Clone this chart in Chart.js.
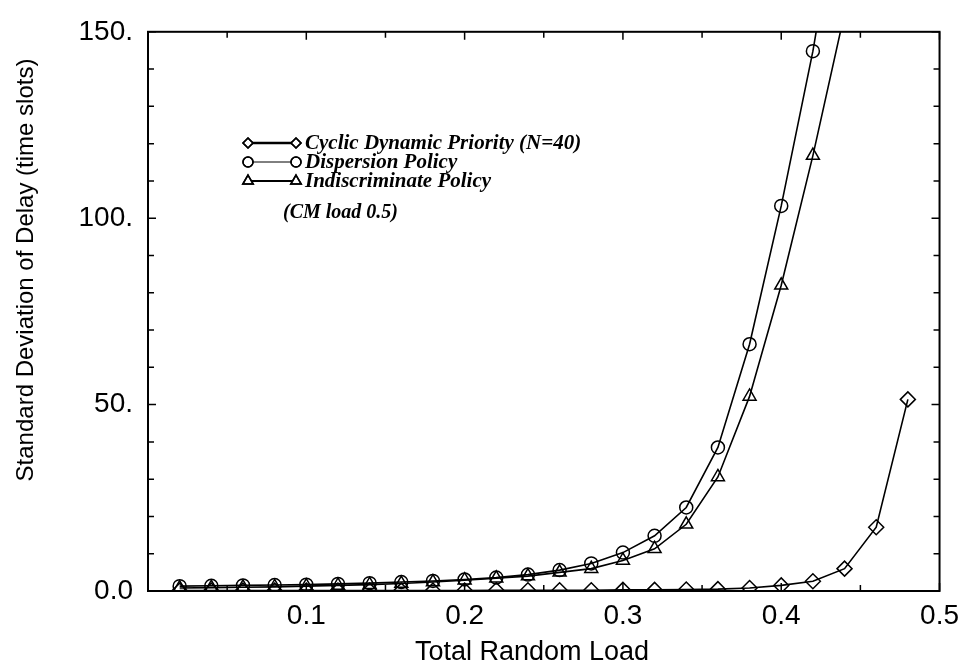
<!DOCTYPE html>
<html>
<head>
<meta charset="utf-8">
<title>Standard Deviation of Delay</title>
<script src="https://cdn.jsdelivr.net/npm/chart.js@4.4.1/dist/chart.umd.min.js"></script>
<style>
  html, body { margin: 0; padding: 0; background: #fff; }
  #wrap { width: 967px; height: 671px; }
</style>
</head>
<body>
<div id="wrap"><canvas id="delayChart" width="967" height="671"></canvas></div>
<script>
const loads = [0.02, 0.04, 0.06, 0.08, 0.10, 0.12, 0.14, 0.16, 0.18, 0.20, 0.22, 0.24,
               0.26, 0.28, 0.30, 0.32, 0.34, 0.36, 0.38, 0.40, 0.42, 0.44, 0.46, 0.48];

const cyclicValues = [0.1, 0.1, 0.1, 0.1, 0.1, 0.1, 0.1, 0.1, 0.1, 0.15, 0.2, 0.2,
                      0.2, 0.2, 0.3, 0.3, 0.4, 0.5, 0.8, 1.5, 2.6, 6.0, 17.1, 51.4];
const dispersionValues = [1.3, 1.4, 1.5, 1.6, 1.7, 1.9, 2.1, 2.4, 2.7, 3.1, 3.6, 4.4,
                          5.6, 7.4, 10.3, 14.8, 22.4, 38.5, 66.2, 103.3, 144.8, 195];
const indiscriminateValues = [0.8, 0.9, 1.0, 1.1, 1.3, 1.5, 1.7, 2.0, 2.4, 2.9, 3.4, 4.0,
                              5.0, 6.0, 8.2, 11.3, 17.9, 30.6, 52.2, 82.0, 116.8, 155];

const seriesNames = ['Cyclic Dynamic Priority (N=40)', 'Dispersion Policy', 'Indiscriminate Policy'];
const xTickValues = [0.1, 0.2, 0.3, 0.4, 0.5];
const xTickLabels = ['0.1', '0.2', '0.3', '0.4', '0.5'];
const yTickValues = [0, 50, 100, 150];
const yTickLabels = ['0.0', '50.', '100.', '150.'];
const xTitle = 'Total Random Load';
const yTitle = 'Standard Deviation of Delay (time slots)';
const noteText = '(CM load 0.5)';

const sansFont = '"Liberation Sans", Arial, sans-serif';
const serifFont = '"Liberation Serif", "Times New Roman", serif';

function toPoints(values) {
    return values.map((v, i) => ({ x: loads[i], y: v }));
}

function labelFor(value, values, labels) {
    const i = values.findIndex(t => Math.abs(t - value) < 1e-6);
    return i >= 0 ? labels[i] : '';
}

// frame round the plot with inward ticks on all four sides
const framePlugin = {
    id: 'frame',
    afterDatasetsDraw(chart) {
        const { ctx, chartArea: a, scales } = chart;
        ctx.save();
        ctx.strokeStyle = '#000';
        ctx.lineWidth = 1.5;
        scales.x.ticks.forEach(t => {
            const px = scales.x.getPixelForValue(t.value);
            const len = labelFor(t.value, xTickValues, xTickLabels) ? 8 : 6;
            ctx.beginPath();
            ctx.moveTo(px, a.bottom); ctx.lineTo(px, a.bottom - len);
            ctx.moveTo(px, a.top); ctx.lineTo(px, a.top + len);
            ctx.stroke();
        });
        scales.y.ticks.forEach(t => {
            const py = scales.y.getPixelForValue(t.value);
            const len = labelFor(t.value, yTickValues, yTickLabels) ? 8 : 6;
            ctx.beginPath();
            ctx.moveTo(a.left, py); ctx.lineTo(a.left + len, py);
            ctx.moveTo(a.right, py); ctx.lineTo(a.right - len, py);
            ctx.stroke();
        });
        ctx.lineWidth = 2;
        ctx.strokeRect(a.left, a.top, a.right - a.left, a.bottom - a.top);
        ctx.restore();
    }
};

// axis titles, placed a little off centre like the scan
const titlesPlugin = {
    id: 'axisTitles',
    afterDraw(chart) {
        const ctx = chart.ctx;
        ctx.save();
        ctx.fillStyle = '#000';
        ctx.textAlign = 'center';
        ctx.textBaseline = 'middle';
        ctx.font = '27px ' + sansFont;
        ctx.fillText(xTitle, 532, 653);
        ctx.translate(26, 270);
        ctx.rotate(-Math.PI / 2);
        ctx.font = '24px ' + sansFont;
        ctx.fillText(yTitle, 0, 0);
        ctx.restore();
    }
};

// legend drawn inside the plot: marker, line, marker, name
const legendPlugin = {
    id: 'insideLegend',
    afterDraw(chart) {
        const ctx = chart.ctx;
        const rows = [143, 162, 181];
        const lineWidths = [2.5, 1, 2];
        ctx.save();
        chart.data.datasets.forEach((ds, i) => {
            const y = rows[i];
            ctx.strokeStyle = '#000';
            ctx.lineWidth = lineWidths[i];
            ctx.beginPath();
            ctx.moveTo(248, y); ctx.lineTo(296, y);
            ctx.stroke();
            const opts = { pointStyle: ds.pointStyle, radius: ds.pointStyle === 'triangle' ? 6 : 5, borderWidth: 1.5 };
            ctx.lineWidth = 1.5;
            ctx.fillStyle = '#fff';
            Chart.helpers.drawPoint(ctx, opts, 248, y);
            ctx.stroke();
            Chart.helpers.drawPoint(ctx, opts, 296, y);
            ctx.stroke();
            ctx.fillStyle = '#000';
            ctx.font = 'italic bold 21px ' + serifFont;
            ctx.textBaseline = 'middle';
            ctx.fillText(seriesNames[i], 305, y + 1);
        });
        ctx.font = 'italic bold 20px ' + serifFont;
        ctx.fillText(noteText, 283, 213);
        ctx.restore();
    }
};

const delayCtx = document.getElementById('delayChart').getContext('2d');
const delayChart = new Chart(delayCtx, {
    type: 'line',
    data: {
        datasets: [{
            label: seriesNames[0],
            data: toPoints(cyclicValues),
            pointStyle: 'rectRot',
            pointRadius: 7.5
        }, {
            label: seriesNames[1],
            data: toPoints(dispersionValues),
            pointStyle: 'circle',
            pointRadius: 6.5
        }, {
            label: seriesNames[2],
            data: toPoints(indiscriminateValues),
            pointStyle: 'triangle',
            pointRadius: 7.5
        }].map(ds => Object.assign(ds, {
            borderColor: '#000',
            borderWidth: 1.6,
            pointBorderColor: '#000',
            pointBackgroundColor: 'rgba(255,255,255,0)',
            pointBorderWidth: 1.5,
            tension: 0,
            fill: false
        }))
    },
    options: {
        responsive: false,
        animation: false,
        layout: { padding: { top: 22, right: 23, left: 0, bottom: 0 } },
        plugins: {
            legend: { display: false },
            tooltip: { enabled: false }
        },
        scales: {
            x: {
                type: 'linear',
                min: 0,
                max: 0.5,
                grid: { display: false, drawTicks: false },
                border: { display: false },
                afterFit(scale) { scale.height = 80; },
                ticks: {
                    stepSize: 0.05,
                    autoSkip: false,
                    maxRotation: 0,
                    padding: 8,
                    color: '#000',
                    font: { family: sansFont, size: 28 },
                    callback: v => labelFor(v, xTickValues, xTickLabels)
                }
            },
            y: {
                type: 'linear',
                min: 0,
                max: 150,
                grid: { display: false, drawTicks: false },
                border: { display: false },
                afterFit(scale) { scale.width = 148; },
                ticks: {
                    stepSize: 10,
                    autoSkip: false,
                    padding: 15,
                    color: '#000',
                    font: { family: sansFont, size: 28 },
                    callback: v => labelFor(v, yTickValues, yTickLabels)
                }
            }
        }
    },
    plugins: [framePlugin, titlesPlugin, legendPlugin]
});
</script>
</body>
</html>
